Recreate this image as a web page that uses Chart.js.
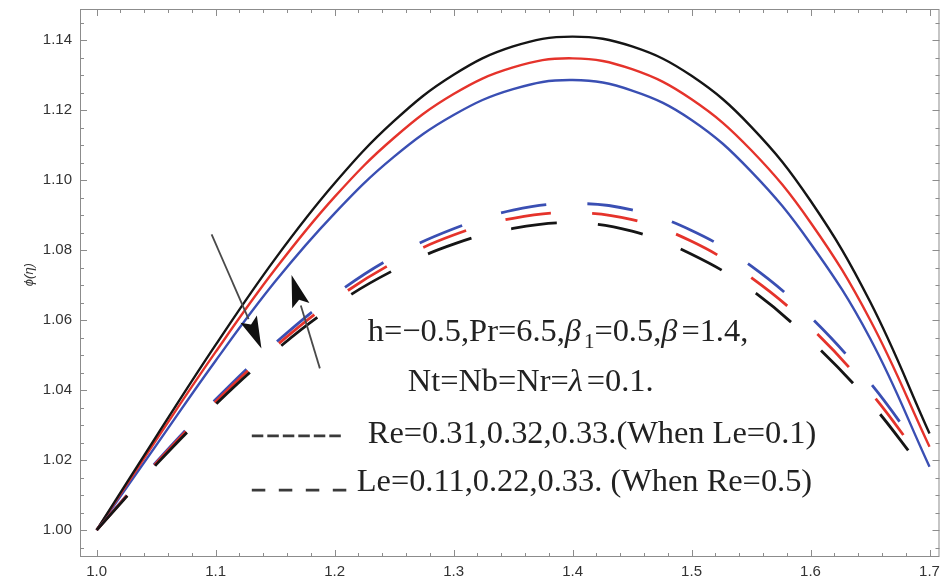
<!DOCTYPE html>
<html lang="en">
<head>
    <meta charset="UTF-8">
    <title>phi(eta) profiles</title>
    <script src="https://cdn.jsdelivr.net/npm/chart.js"></script>
    <style>
        body {
            margin: 0;
            background: #ffffff;
        }

        .chart-box {
            position: relative;
            width: 946px;
            height: 586px;
        }
    </style>
</head>
<body>
    <div class="chart-box">
        <canvas id="phiChart"></canvas>
    </div>

    <script>
        // eta samples and phi(eta) values
        const etaSolid = [1.00, 1.05, 1.10, 1.15, 1.20, 1.25, 1.30, 1.35, 1.40, 1.45, 1.50, 1.55, 1.60, 1.65, 1.70];
        const phiSolidBlack = [1.000, 1.0267, 1.0529, 1.0775, 1.0991, 1.1169, 1.1301, 1.1382, 1.141, 1.1382, 1.1298, 1.1153, 1.0941, 1.0653, 1.0276];
        const phiSolidRed = [1.000, 1.0257, 1.0509, 1.0745, 1.0952, 1.1121, 1.1246, 1.1322, 1.1348, 1.1317, 1.1231, 1.1086, 1.0879, 1.0601, 1.0238];
        const phiSolidBlue = [1.000, 1.0242, 1.0484, 1.071, 1.0905, 1.1067, 1.1186, 1.126, 1.1286, 1.1256, 1.1172, 1.1025, 1.0819, 1.0548, 1.0181];

        const etaDashed = [1.00, 1.05, 1.10, 1.15, 1.20, 1.25, 1.30, 1.35, 1.40, 1.45, 1.50, 1.55, 1.60, 1.65, 1.69];
        const phiDashedBlue = [1.000, 1.0194, 1.0373, 1.0534, 1.0672, 1.0782, 1.0861, 1.0914, 1.0933, 1.0915, 1.0856, 1.0755, 1.0609, 1.0421, 1.0239];
        const phiDashedRed = [1.000, 1.0191, 1.0367, 1.0524, 1.0658, 1.0765, 1.0843, 1.0891, 1.0907, 1.0887, 1.0825, 1.0722, 1.0579, 1.0395, 1.0217];
        const phiDashedBlack = [1.000, 1.0187, 1.0359, 1.0512, 1.0642, 1.0743, 1.0817, 1.0862, 1.0878, 1.0854, 1.0788, 1.0687, 1.0542, 1.0365, 1.0193];

        const xTicks = [1.0, 1.1, 1.2, 1.3, 1.4, 1.5, 1.6, 1.7];
        const yTicks = [1.00, 1.02, 1.04, 1.06, 1.08, 1.10, 1.12, 1.14];

        const BLACK = '#151515';
        const RED = '#e5332b';
        const BLUE = '#3a4fb3';

        const toPoints = (xs, ys) => xs.map((x, i) => ({ x: x, y: ys[i] }));

        function solid(values, color) {
            return {
                data: toPoints(etaSolid, values),
                borderColor: color,
                borderWidth: 2.4,
                pointRadius: 0,
                tension: 0.4,
                fill: false,
            };
        }

        function dashed(values, color) {
            return {
                data: toPoints(etaDashed, values),
                borderColor: color,
                borderWidth: 2.8,
                borderDash: [46, 41],
                pointRadius: 0,
                tension: 0.4,
                fill: false,
            };
        }

        // rich text pieces for the parameter notes
        const noteLines = [
            { x: 1.2279, y: 1.0540, parts: [
                { t: 'h=\u22120.5,Pr=6.5,' }, { t: '\u03B2', italic: true, after: 3 }, { t: '1', sub: true },
                { t: '=0.5,' }, { t: '\u03B2', italic: true, after: 4 }, { t: '=1.4,' }
            ] },
            { x: 1.2615, y: 1.0397, parts: [
                { t: 'Nt=Nb=Nr=' }, { t: '\u03BB', italic: true, after: 4 }, { t: '=0.1.' }
            ] },
            { x: 1.2279, y: 1.0249, parts: [{ t: 'Re=0.31,0.32,0.33.(When Le=0.1)' }] },
            { x: 1.2186, y: 1.0111, parts: [{ t: 'Le=0.11,0.22,0.33. (When Re=0.5)' }] },
        ];

        const keyLines = [
            { x0: 1.1304, x1: 1.2060, y: 1.0269, dash: [11.5, 4] },
            { x0: 1.1304, x1: 1.2103, y: 1.0114, dash: [13.5, 13.5] },
        ];

        const arrows = [
            { from: [1.0966, 1.0845], to: [1.1385, 1.0519] },
            { from: [1.1876, 1.0462], to: [1.1638, 1.0729] },
        ];

        const SERIF = '"Liberation Serif", "Times New Roman", serif';
        const NOTE_SIZE = 32.4;

        function drawRich(ctx, parts, x, y, size) {
            let cx = x;
            parts.forEach(p => {
                const fs = p.sub ? Math.round(size * 0.66) : size;
                ctx.font = (p.italic ? 'italic ' : '') + fs + 'px ' + SERIF;
                const dy = p.sub ? size * 0.22 : 0;
                ctx.fillText(p.t, cx, y + dy);
                cx += ctx.measureText(p.t).width + (p.after || 0);
            });
        }

        function drawArrow(ctx, x0, y0, x1, y1) {
            const ang = Math.atan2(y1 - y0, x1 - x0);
            const headLen = 32, headHalf = 9;
            const bx = x1 - headLen * Math.cos(ang);
            const by = y1 - headLen * Math.sin(ang);
            ctx.strokeStyle = '#4a4a4a';
            ctx.lineWidth = 1.8;
            ctx.beginPath();
            ctx.moveTo(x0, y0);
            ctx.lineTo(bx, by);
            ctx.stroke();
            ctx.fillStyle = '#111';
            ctx.beginPath();
            ctx.moveTo(x1, y1);
            ctx.lineTo(bx + headHalf * Math.sin(ang), by - headHalf * Math.cos(ang));
            ctx.lineTo(bx + 6 * Math.cos(ang), by + 6 * Math.sin(ang));
            ctx.lineTo(bx - headHalf * Math.sin(ang), by + headHalf * Math.cos(ang));
            ctx.closePath();
            ctx.fill();
        }

        const framePlugin = {
            id: 'frame',
            afterDatasetsDraw(chart) {
                const { ctx, chartArea: a, scales } = chart;
                const xs = scales.x, ys = scales.y;
                ctx.save();

                // frame
                ctx.strokeStyle = '#8c8c8c';
                ctx.lineWidth = 1;
                ctx.strokeRect(a.left + 0.5, a.top + 0.5, a.width - 1, a.height - 1);

                // inward ticks on all four sides
                ctx.beginPath();
                for (let i = 0; i <= 36; i++) {
                    const v = 1.0 + i * 0.02;
                    const px = Math.round(xs.getPixelForValue(v)) + 0.5;
                    const len = i % 5 === 0 ? 7 : 4;
                    ctx.moveTo(px, a.bottom); ctx.lineTo(px, a.bottom - len);
                    ctx.moveTo(px, a.top); ctx.lineTo(px, a.top + len);
                }
                for (let i = -1; i <= 29; i++) {
                    const v = 1.0 + i * 0.005;
                    const py = Math.round(ys.getPixelForValue(v)) + 0.5;
                    if (py < a.top || py > a.bottom) continue;
                    const len = i % 4 === 0 ? 7 : 4;
                    ctx.moveTo(a.left, py); ctx.lineTo(a.left + len, py);
                    ctx.moveTo(a.right, py); ctx.lineTo(a.right - len, py);
                }
                ctx.stroke();

                // y axis title
                ctx.save();
                ctx.translate(29, ys.getPixelForValue(1.073));
                ctx.rotate(-Math.PI / 2);
                ctx.fillStyle = '#333';
                ctx.font = 'italic 13px "Liberation Sans", Arial, sans-serif';
                ctx.textAlign = 'center';
                ctx.textBaseline = 'middle';
                ctx.fillText('\u03D5(\u03B7)', 0, 0);
                ctx.restore();

                // arrows
                arrows.forEach(ar => {
                    drawArrow(ctx,
                        xs.getPixelForValue(ar.from[0]), ys.getPixelForValue(ar.from[1]),
                        xs.getPixelForValue(ar.to[0]), ys.getPixelForValue(ar.to[1]));
                });

                // parameter notes
                ctx.fillStyle = '#222';
                ctx.textBaseline = 'alphabetic';
                noteLines.forEach(l => {
                    drawRich(ctx, l.parts, xs.getPixelForValue(l.x), ys.getPixelForValue(l.y), NOTE_SIZE);
                });

                // line style keys
                ctx.strokeStyle = '#3a3a3a';
                ctx.lineWidth = 2.6;
                keyLines.forEach(k => {
                    ctx.setLineDash(k.dash);
                    ctx.beginPath();
                    const py = ys.getPixelForValue(k.y);
                    ctx.moveTo(xs.getPixelForValue(k.x0), py);
                    ctx.lineTo(xs.getPixelForValue(k.x1), py);
                    ctx.stroke();
                });
                ctx.setLineDash([]);

                ctx.restore();
            }
        };

        const tickFont = { family: '"Liberation Sans", Arial, sans-serif', size: 15 };

        new Chart(document.getElementById('phiChart'), {
            type: 'line',
            data: {
                datasets: [
                    dashed(phiDashedBlack, BLACK),
                    dashed(phiDashedRed, RED),
                    dashed(phiDashedBlue, BLUE),
                    solid(phiSolidBlack, BLACK),
                    solid(phiSolidRed, RED),
                    solid(phiSolidBlue, BLUE),
                ]
            },
            options: {
                responsive: true,
                maintainAspectRatio: false,
                animation: false,
                layout: { padding: { top: 9, right: 6, left: 0, bottom: 0 } },
                plugins: {
                    legend: { display: false },
                    tooltip: { enabled: false },
                },
                scales: {
                    x: {
                        type: 'linear',
                        min: 0.986,
                        max: 1.7084,
                        grid: { display: false, drawTicks: false },
                        border: { display: false },
                        afterBuildTicks: s => { s.ticks = xTicks.map(v => ({ value: v })); },
                        afterFit: s => { s.height = 29; },
                        ticks: {
                            padding: 6,
                            color: '#333',
                            font: tickFont,
                            maxRotation: 0,
                            callback: v => Number(v).toFixed(1),
                        }
                    },
                    y: {
                        type: 'linear',
                        min: 0.9923,
                        max: 1.1489,
                        grid: { display: false, drawTicks: false },
                        border: { display: false },
                        afterBuildTicks: s => { s.ticks = yTicks.map(v => ({ value: v })); },
                        afterFit: s => { s.width = 80; s.paddingTop = 0; },
                        ticks: {
                            padding: 8,
                            color: '#333',
                            font: tickFont,
                            callback: v => Number(v).toFixed(2),
                        }
                    }
                }
            },
            plugins: [framePlugin]
        });
    </script>
</body>
</html>
